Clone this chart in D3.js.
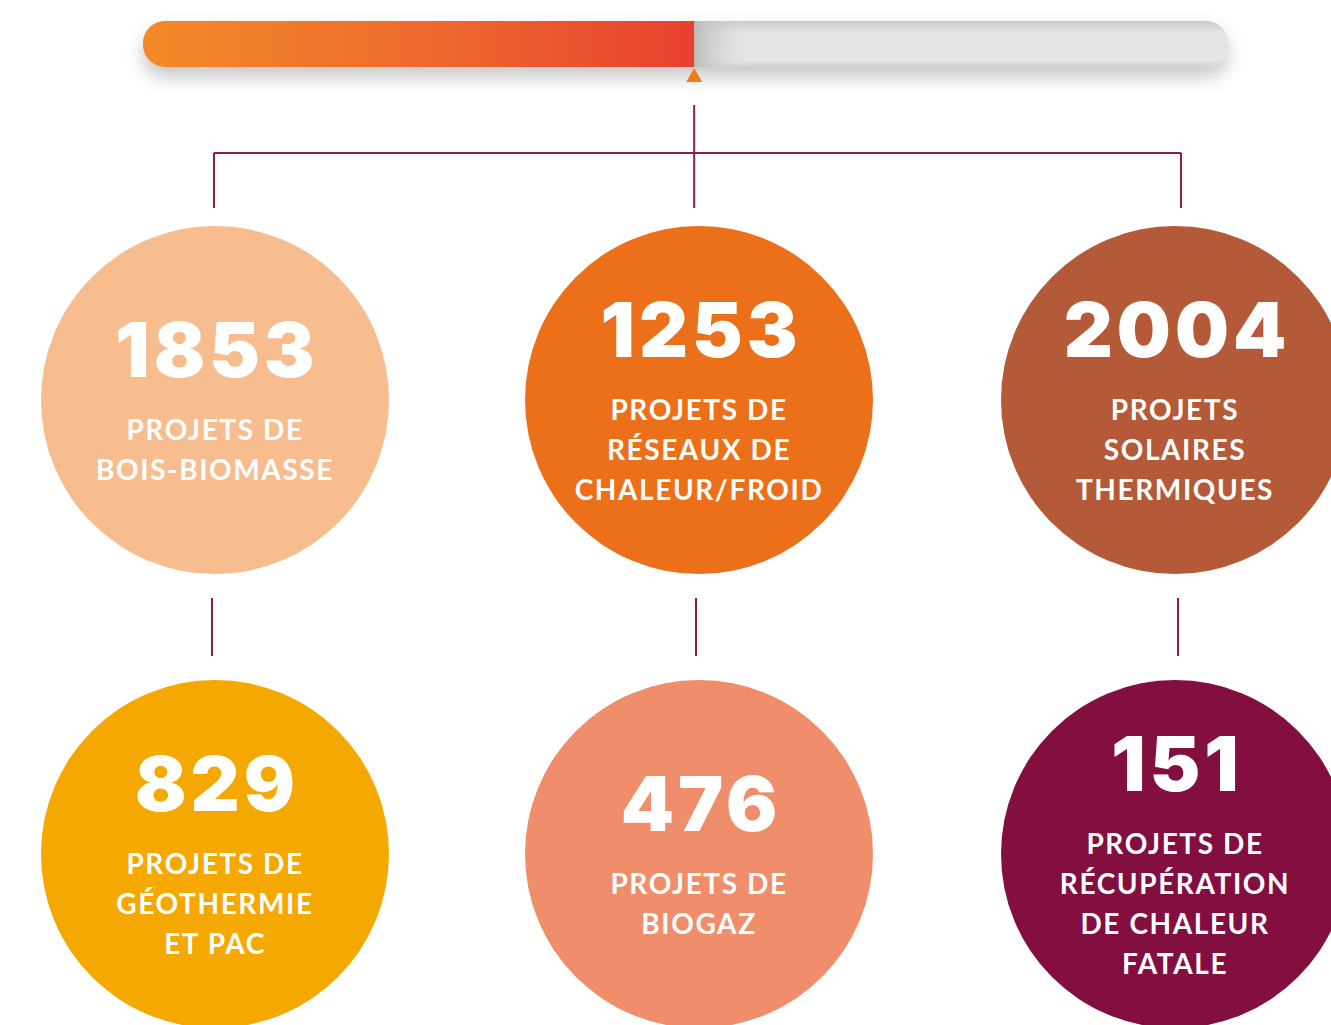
<!DOCTYPE html>
<html>
<head>
<meta charset="utf-8">
<script src="https://cdn.jsdelivr.net/npm/d3@7"></script>
<style>
  html, body { margin: 0; padding: 0; background: #fff; }
  svg { display: block; }
</style>
</head>
<body>
<div id="chart"></div>
<script>
// chiffres par filière
const values = [1853, 1253, 2004, 829, 476, 151];
const labels = [
  ["PROJETS DE", "BOIS-BIOMASSE"],
  ["PROJETS DE", "RÉSEAUX DE", "CHALEUR/FROID"],
  ["PROJETS", "SOLAIRES", "THERMIQUES"],
  ["PROJETS DE", "GÉOTHERMIE", "ET PAC"],
  ["PROJETS DE", "BIOGAZ"],
  ["PROJETS DE", "RÉCUPÉRATION", "DE CHALEUR", "FATALE"]
];
const colors = ["#f8bd8f", "#ec7019", "#b55a38", "#f5a800", "#f08e6b", "#820f3f"];
const progress = 0.508; // part de la barre remplie

const W = 1331, H = 1025;
const svg = d3.select("#chart").append("svg")
  .attr("width", W).attr("height", H);

const defs = svg.append("defs");
const fillGrad = defs.append("linearGradient").attr("id", "fillGrad");
fillGrad.append("stop").attr("offset", "0%").attr("stop-color", "#f38a28");
fillGrad.append("stop").attr("offset", "50%").attr("stop-color", "#ee6b2e");
fillGrad.append("stop").attr("offset", "100%").attr("stop-color", "#e8402f");

const grayGrad = defs.append("linearGradient").attr("id", "grayGrad")
  .attr("x1", 0).attr("y1", 0).attr("x2", 0).attr("y2", 1);
grayGrad.append("stop").attr("offset", "0%").attr("stop-color", "#c9c9c9");
grayGrad.append("stop").attr("offset", "25%").attr("stop-color", "#e4e4e4");
grayGrad.append("stop").attr("offset", "85%").attr("stop-color", "#e6e6e6");
grayGrad.append("stop").attr("offset", "100%").attr("stop-color", "#d2d2d2");

const edgeGrad = defs.append("linearGradient").attr("id", "edgeGrad");
edgeGrad.append("stop").attr("offset", "0%").attr("stop-color", "#b8b8b8").attr("stop-opacity", 0.9);
edgeGrad.append("stop").attr("offset", "100%").attr("stop-color", "#e4e4e4").attr("stop-opacity", 0);

const shadow = defs.append("filter").attr("id", "shadow")
  .attr("x", "-10%").attr("y", "-50%").attr("width", "120%").attr("height", "250%");
shadow.append("feDropShadow")
  .attr("dx", 0).attr("dy", 10).attr("stdDeviation", 9)
  .attr("flood-color", "#000").attr("flood-opacity", 0.22);

// barre de progression
const barX0 = 143, barX1 = 1228, barY = 21, barH = 46;
const x = d3.scaleLinear().domain([0, 1]).range([barX0, barX1]);
const xFill = x(progress);

defs.append("clipPath").attr("id", "barClip")
  .append("rect").attr("x", barX0).attr("y", barY)
  .attr("width", barX1 - barX0).attr("height", barH).attr("rx", 22);

svg.append("rect")
  .attr("x", barX0).attr("y", barY)
  .attr("width", barX1 - barX0).attr("height", barH).attr("rx", 22)
  .attr("fill", "#e3e3e3").attr("filter", "url(#shadow)");

const bar = svg.append("g").attr("clip-path", "url(#barClip)");
bar.append("rect")
  .attr("x", barX0).attr("y", barY)
  .attr("width", barX1 - barX0).attr("height", barH)
  .attr("fill", "url(#grayGrad)");
bar.append("rect")
  .attr("x", xFill).attr("y", barY)
  .attr("width", 60).attr("height", barH)
  .attr("fill", "url(#edgeGrad)");
bar.append("rect")
  .attr("x", barX0).attr("y", barY)
  .attr("width", xFill - barX0).attr("height", barH)
  .attr("fill", "url(#fillGrad)");

// curseur
svg.append("path")
  .attr("d", `M${xFill},${barY + barH + 1}l8,14h-16z`)
  .attr("fill", "#ee7a1c");

// arborescence
const line = "#8a1c4c";
const colX = d3.scaleOrdinal().domain([0, 1, 2]).range([214, 695, 1181]);
const stemX = d3.scaleOrdinal().domain([0, 1, 2]).range([212, 696, 1178]);
const conn = svg.append("g").attr("stroke", line).attr("stroke-width", 2).attr("fill", "none");
conn.append("line").attr("x1", xFill).attr("x2", xFill).attr("y1", 105).attr("y2", 208);
conn.append("line").attr("x1", colX(0)).attr("x2", colX(2)).attr("y1", 153).attr("y2", 153);
[0, 2].forEach(c => conn.append("line")
  .attr("x1", colX(c)).attr("x2", colX(c)).attr("y1", 153).attr("y2", 208));
[0, 1, 2].forEach(c => conn.append("line")
  .attr("x1", stemX(c)).attr("x2", stemX(c)).attr("y1", 598).attr("y2", 656));

// cercles
const cx = d3.scaleOrdinal().domain([0, 1, 2]).range([215, 699, 1175]);
const cy = d3.scaleOrdinal().domain([0, 1]).range([400, 854]);
const r = 174;

const data = values.map((v, i) => ({ v, lines: labels[i], color: colors[i], col: i % 3, row: Math.floor(i / 3) }));

const nodes = svg.selectAll("g.node").data(data).join("g")
  .attr("class", "node")
  .attr("transform", d => `translate(${cx(d.col)},${cy(d.row)})`);

nodes.append("circle").attr("r", r).attr("fill", d => d.color);

const numH = 53, gap = 63, lh = 40;
nodes.each(function(d) {
  const g = d3.select(this);
  const blockH = numH + gap + (d.lines.length - 1) * lh;
  const top = -blockH / 2 + 2;
  const numBase = top + numH;
  g.append("text")
    .attr("x", 2).attr("y", numBase)
    .attr("text-anchor", "middle")
    .attr("fill", "#fff")
    .style("font-family", "Inter, 'DejaVu Sans', sans-serif")
    .style("font-weight", 900)
    .style("font-size", "76px")
    .style("letter-spacing", "4px")
    .text(d.v);
  g.selectAll("text.lab").data(d.lines).join("text")
    .attr("class", "lab")
    .attr("x", 0)
    .attr("y", (t, j) => numBase + gap + j * lh)
    .attr("text-anchor", "middle")
    .attr("fill", "#fff")
    .style("font-family", "Lato, 'Open Sans', sans-serif")
    .style("font-weight", 700)
    .style("font-size", "28px")
    .style("letter-spacing", "1.6px")
    .text(t => t);
});
</script>
</body>
</html>
